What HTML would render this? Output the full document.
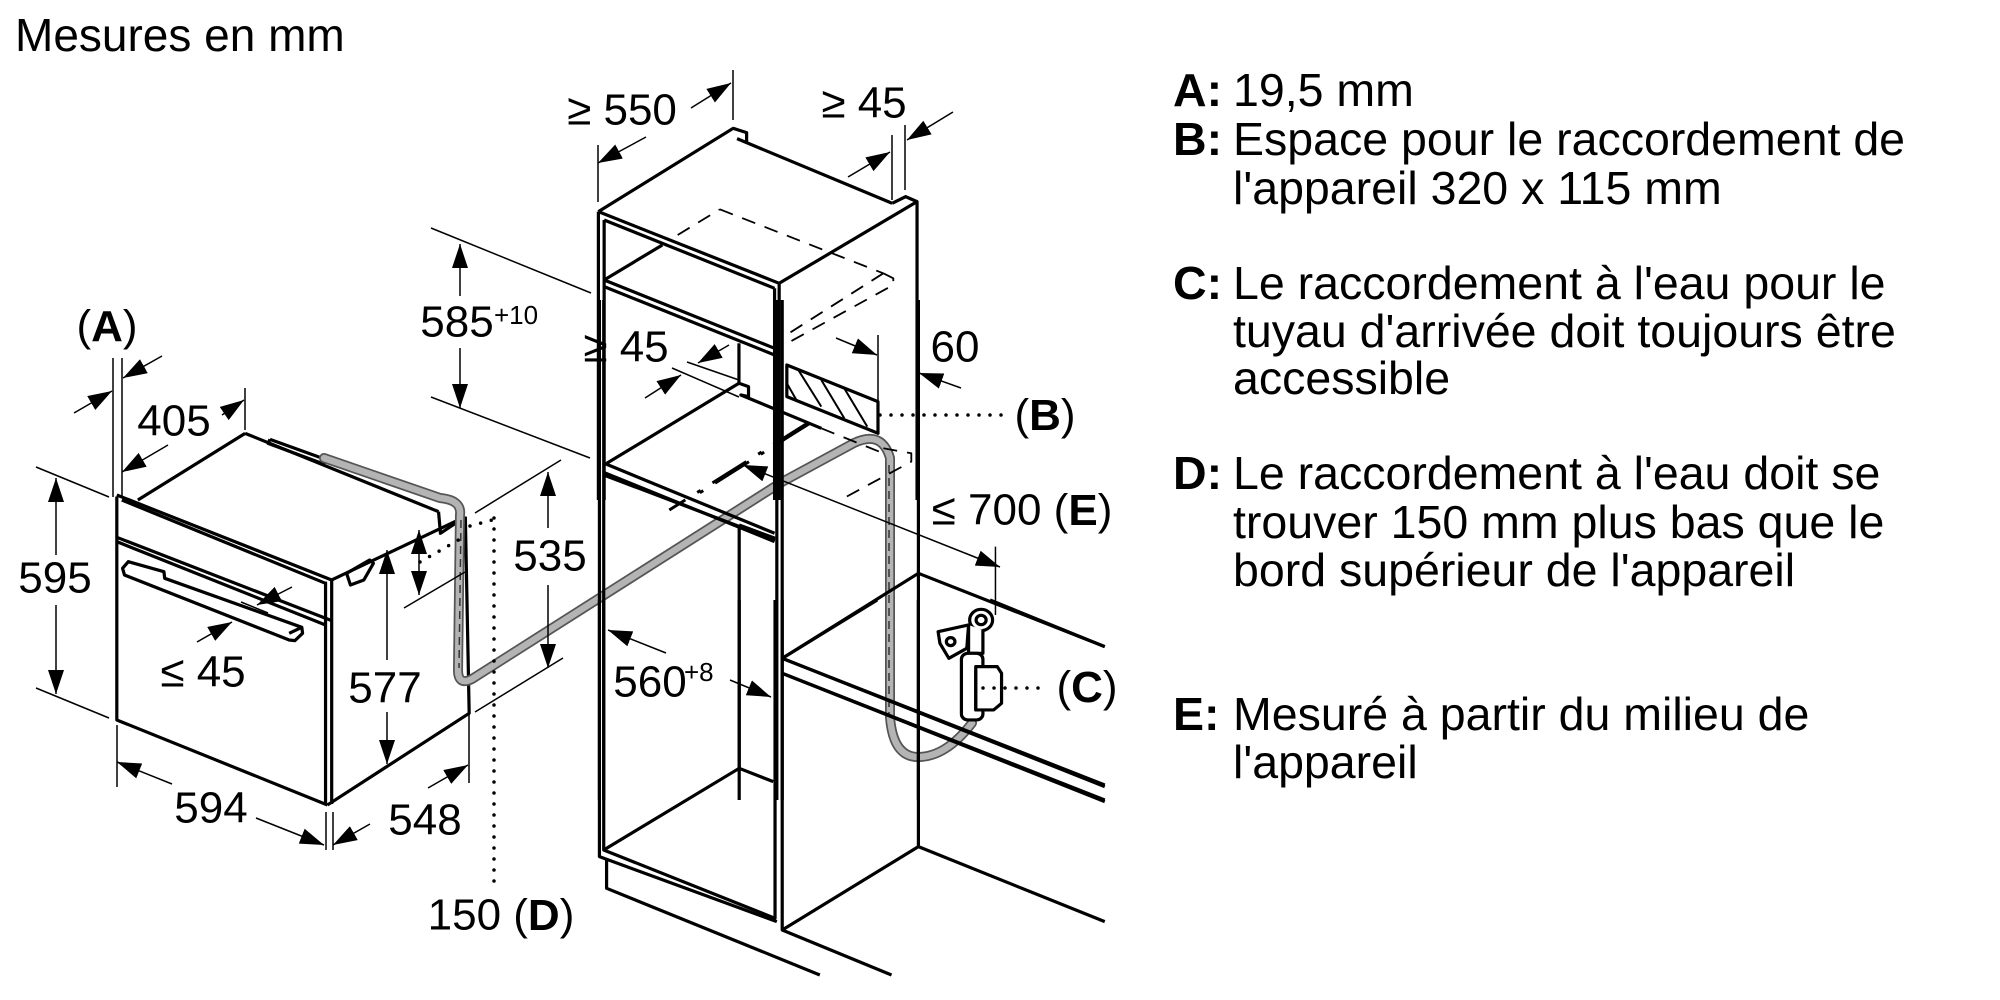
<!DOCTYPE html>
<html><head><meta charset="utf-8"><style>
html,body{margin:0;padding:0;background:#fff;}
svg{display:block;}
.z *{vector-effect:non-scaling-stroke;}
text{font-family:"Liberation Sans",Arial,sans-serif;fill:#000;}
</style></head><body>
<svg width="2000" height="1000" viewBox="0 0 2000 1000" xmlns="http://www.w3.org/2000/svg">
<defs>
<marker id="a" markerUnits="userSpaceOnUse" markerWidth="26" markerHeight="16" refX="24" refY="8" orient="auto"><path d="M0,0 L24,8 L0,16 Z" fill="#000"/></marker>
<marker id="s" markerUnits="userSpaceOnUse" markerWidth="26" markerHeight="16" refX="0" refY="8" orient="auto"><path d="M24,0 L0,8 L24,16 Z" fill="#000"/></marker>
</defs>
<rect width="2000" height="1000" fill="#fff"/>

<!-- OVEN (zoom3 coords) -->
<g class="z" transform="translate(0,400) scale(0.383,0.3333)" fill="none" stroke="#000" stroke-width="3.2" stroke-linejoin="round">
<polyline points="305,290 305,960 855,1215"/>
<line x1="850" y1="545" x2="850" y2="1212"/>
<line x1="866" y1="540" x2="866" y2="1212"/>
<line x1="305" y1="285" x2="866" y2="540"/>
<line x1="318" y1="300" x2="850" y2="550"/>
<line x1="305" y1="412" x2="866" y2="662"/>
<line x1="305" y1="425" x2="850" y2="675"/>
<line x1="360" y1="300" x2="640" y2="100"/>
<line x1="640" y1="100" x2="1145" y2="335"/>
<line x1="866" y1="540" x2="1215" y2="350"/>
<polyline points="1215,350 1225,940 855,1215"/>
<polyline points="1145,335 1150,400 1215,350"/>
<polyline points="705,118 850,178 845,192 700,130 705,118"/>
<path d="M320,505 L335,485 L428,515 L430,535 L788,682 L790,700 L770,722 L755,720 L325,525 Z" fill="#fff"/>
<line x1="755" y1="700" x2="788" y2="682"/>
<path d="M905,520 L965,480 L975,490 L950,540 L915,555 Z"/>
</g>
<!-- hose -->
<path d="M324,458 L440,498 Q462,500 460,515 L458,670 Q458,686 472,679 L782,482 L854,443 Q882,430 890,458 L890,717 Q893,757 918,757 Q946,757 972,723" fill="none" stroke="#555" stroke-width="10" stroke-linejoin="round" stroke-linecap="round"/>
<path d="M324,458 L440,498 Q462,500 460,515 L458,670 Q458,686 472,679 L782,482 L854,443 Q882,430 890,458 L890,717 Q893,757 918,757 Q946,757 972,723" fill="none" stroke="#b4b4b4" stroke-width="6.5" stroke-linejoin="round" stroke-linecap="round"/>
<path d="M461,520 L459,668 M889,465 L889,715" fill="none" stroke="#333" stroke-width="1.5" stroke-dasharray="8,5"/>

<!-- CABINET upper (zoom4 coords) -->
<g class="z" transform="translate(400,50) scale(0.383,0.3333)" fill="none" stroke="#000" stroke-width="3.2" stroke-linejoin="round">
<line x1="518" y1="485" x2="518" y2="1350"/>
<line x1="533" y1="510" x2="533" y2="1350"/>
<polyline points="518,485 870,235 905,248 905,280"/>
<line x1="880" y1="266" x2="1285" y2="460"/>
<polyline points="1285,460 1320,440 1350,455 1350,1350"/>
<line x1="518" y1="485" x2="990" y2="700"/>
<line x1="990" y1="700" x2="1350" y2="455"/>
<line x1="533" y1="510" x2="978" y2="715"/>
<line x1="978" y1="715" x2="978" y2="1350"/>
<line x1="990" y1="700" x2="990" y2="1350"/>
<line x1="533" y1="690" x2="978" y2="895"/>
<line x1="533" y1="710" x2="978" y2="915"/>
<line x1="533" y1="690" x2="685" y2="585"/>
<line x1="885" y1="880" x2="885" y2="1000"/>
<polyline points="540,1240 885,1000 910,1010 910,1040 890,1035 1100,1135"/>
<line x1="533" y1="1240" x2="978" y2="1450"/>
<line x1="533" y1="1268" x2="978" y2="1475"/>
<polygon points="1010,945 1248,1055 1248,1150 1010,1040" fill="#fff"/>
<path d="M1040,960 L1100,1070 M1100,990 L1160,1105 M1160,1015 L1220,1130 M1010,1000 L1035,1050" stroke-width="2"/>
<g stroke-width="1.8" stroke-dasharray="14,10">
<line x1="725" y1="555" x2="835" y2="478"/>
<line x1="835" y1="478" x2="1262" y2="670"/>
<polyline points="1262,670 1288,685 1288,705 995,890"/>
<line x1="1262" y1="670" x2="995" y2="865"/>
<line x1="1100" y1="1135" x2="1262" y2="1210"/>
<polyline points="1262,1195 1335,1210 1335,1235 1150,1350"/>
</g>
<path d="M1070,1120 L760,1345" stroke-width="3" stroke-dasharray="40,14,4,14"/>
</g>

<!-- zoom2 coords -->
<g class="z" transform="translate(560,300) scale(0.3584,0.3333)" fill="none" stroke="#000" stroke-width="3.2" stroke-linejoin="round">
<line x1="500" y1="675" x2="500" y2="1500"/>
<line x1="110" y1="0" x2="110" y2="1500"/>
<line x1="122" y1="0" x2="122" y2="1500"/>
<line x1="605" y1="0" x2="605" y2="1500"/>
<line x1="620" y1="0" x2="620" y2="1500"/>
<line x1="1000" y1="0" x2="1000" y2="1500"/>
<line x1="122" y1="525" x2="600" y2="720"/>
<line x1="500" y1="675" x2="600" y2="715"/>
<path d="M690,370 L305,630" stroke-width="3" stroke-dasharray="40,14,4,14"/>
<polyline points="620,1075 1000,820 1520,1040"/>
<line x1="620" y1="1075" x2="1520" y2="1460"/>
<line x1="620" y1="1120" x2="1520" y2="1500"/>
<line x1="1215" y1="740" x2="1215" y2="945" stroke-width="1.5"/>
<ellipse cx="1175" cy="960" rx="32" ry="32" fill="#fff"/>
<ellipse cx="1175" cy="960" rx="14" ry="14"/>
<path d="M1140,975 L1140,1060 L1180,1060 L1180,990" fill="#fff"/>
<path d="M1055,995 L1140,975 L1135,1045 L1085,1075 L1060,1030 Z" fill="#fff"/>
<ellipse cx="1090" cy="1025" rx="12" ry="12"/>
<rect x="1120" y="1060" width="60" height="200" rx="18" fill="#fff"/>
<path d="M1160,1100 L1220,1100 L1232,1120 L1232,1210 L1210,1230 L1160,1230 Z" fill="#fff"/>
<line x1="1160" y1="1110" x2="1160" y2="1230"/>
</g>

<!-- zoom5 coords (bottom) -->
<g class="z" transform="translate(560,600) scale(0.3584,0.3333)" fill="none" stroke="#000" stroke-width="3.2" stroke-linejoin="round">
<polyline points="110,0 110,770 605,965"/>
<polyline points="122,0 122,750 600,955 600,0"/>
<polyline points="122,750 500,505 595,545"/>
<line x1="500" y1="0" x2="500" y2="505"/>
<polyline points="130,780 130,865 725,1125"/>
<polyline points="620,0 620,990 925,1125"/>
<polyline points="620,990 1000,740 1520,965"/>
<line x1="1000" y1="0" x2="1000" y2="740"/>
<line x1="620" y1="175" x2="885" y2="0"/>
<line x1="620" y1="175" x2="1520" y2="555"/>
<line x1="620" y1="220" x2="1520" y2="605"/>
<line x1="1200" y1="0" x2="1520" y2="140"/>
</g>

<!-- dimension lines (real coords) -->
<g fill="none" stroke="#000" stroke-width="1.5">
<line x1="36" y1="467" x2="109" y2="497"/><line x1="36" y1="688" x2="109" y2="718"/>
<line x1="56" y1="555" x2="56" y2="478" marker-end="url(#a)"/>
<line x1="56" y1="605" x2="56" y2="694" marker-end="url(#a)"/>
<line x1="117" y1="725" x2="117" y2="787"/><line x1="326" y1="812" x2="326" y2="850"/>
<line x1="172" y1="784" x2="117" y2="762" marker-end="url(#a)"/>
<line x1="256" y1="818" x2="324" y2="845" marker-end="url(#a)"/>
<line x1="469" y1="713" x2="469" y2="783"/><line x1="333" y1="812" x2="333" y2="850"/>
<line x1="370" y1="824" x2="333" y2="845" marker-end="url(#a)"/>
<line x1="428" y1="788" x2="468" y2="765" marker-end="url(#a)"/>
<line x1="387" y1="660" x2="387" y2="550" marker-end="url(#a)"/>
<line x1="387" y1="712" x2="387" y2="764" marker-end="url(#a)"/>
<line x1="475" y1="513" x2="561" y2="460"/><line x1="475" y1="712" x2="563" y2="658"/>
<line x1="548" y1="528" x2="548" y2="472" marker-end="url(#a)"/>
<line x1="548" y1="585" x2="548" y2="668" marker-end="url(#a)"/>
<line x1="419" y1="530" x2="419" y2="595" marker-start="url(#s)" marker-end="url(#a)"/>
<line x1="404" y1="608" x2="465" y2="572"/>
<line x1="292" y1="587" x2="257" y2="605" marker-end="url(#a)"/>
<line x1="197" y1="642" x2="232" y2="622" marker-end="url(#a)"/>
<line x1="241" y1="602" x2="268" y2="613"/>
<line x1="245" y1="388" x2="245" y2="430"/>
<line x1="222" y1="415" x2="244" y2="400" marker-end="url(#a)"/>
<line x1="168" y1="445" x2="122" y2="472" marker-end="url(#a)"/>
<line x1="113" y1="358" x2="113" y2="497"/><line x1="122" y1="358" x2="122" y2="497"/>
<line x1="162" y1="356" x2="123" y2="378" marker-end="url(#a)"/>
<line x1="74" y1="413" x2="112" y2="391" marker-end="url(#a)"/>
<line x1="598" y1="145" x2="598" y2="202"/><line x1="733" y1="70" x2="733" y2="120"/>
<line x1="646" y1="137" x2="598" y2="163" marker-end="url(#a)"/>
<line x1="691" y1="108" x2="731" y2="83" marker-end="url(#a)"/>
<line x1="892" y1="135" x2="892" y2="200"/><line x1="905" y1="125" x2="905" y2="190"/>
<line x1="848" y1="177" x2="890" y2="152" marker-end="url(#a)"/>
<line x1="953" y1="112" x2="907" y2="140" marker-end="url(#a)"/>
<line x1="431" y1="228" x2="591" y2="293"/><line x1="431" y1="397" x2="590" y2="458"/>
<line x1="460" y1="296" x2="460" y2="244" marker-end="url(#a)"/>
<line x1="460" y1="348" x2="460" y2="408" marker-end="url(#a)"/>
<line x1="729" y1="345" x2="698" y2="363" marker-end="url(#a)"/>
<line x1="645" y1="398" x2="681" y2="375" marker-end="url(#a)"/>
<line x1="687" y1="362" x2="739" y2="380"/><line x1="672" y1="368" x2="739" y2="397"/>
<line x1="878" y1="335" x2="878" y2="433"/>
<line x1="961" y1="388" x2="919" y2="373" marker-end="url(#a)"/>
<line x1="836" y1="338" x2="877" y2="355" marker-end="url(#a)"/>
<line x1="743" y1="465" x2="1000" y2="567" marker-start="url(#s)" marker-end="url(#a)"/>
<line x1="666" y1="653" x2="608" y2="630" marker-end="url(#a)"/>
<line x1="730" y1="680" x2="771" y2="697" marker-end="url(#a)"/>
</g>
<g fill="none" stroke="#000" stroke-width="3.5" stroke-linecap="round" stroke-dasharray="0,11">
<line x1="494" y1="518" x2="494" y2="884"/>
<line x1="470" y1="526" x2="492" y2="520"/>
<line x1="420" y1="562" x2="462" y2="538"/>
<line x1="880" y1="415" x2="1006" y2="415"/>
<line x1="983" y1="688" x2="1044" y2="688"/>
</g>

<g font-size="44" text-anchor="middle" dominant-baseline="central">
<text x="55" y="578">595</text>
<text x="211" y="808">594</text>
<text x="425" y="820">548</text>
<text x="385" y="688">577</text>
<text x="550" y="556">535</text>
<text x="203" y="672">≤ 45</text>
<text x="174" y="421">405</text>
<text x="107" y="326">(<tspan font-weight="bold">A</tspan>)</text>
<text x="622" y="110">≥ 550</text>
<text x="864" y="103">≥ 45</text>
<text x="626" y="347">≥ 45</text>
<text x="955" y="347">60</text>
<text x="1045" y="415">(<tspan font-weight="bold">B</tspan>)</text>
<text x="1022" y="510">≤ 700 (<tspan font-weight="bold">E</tspan>)</text>
<text x="1087" y="687">(<tspan font-weight="bold">C</tspan>)</text>
<text x="501" y="915">150 (<tspan font-weight="bold">D</tspan>)</text>
</g>
<text x="457" y="322" font-size="44" text-anchor="middle" dominant-baseline="central">585</text>
<text x="494" y="315" font-size="26" dominant-baseline="central">+10</text>
<text x="650" y="682" font-size="44" text-anchor="middle" dominant-baseline="central">560</text>
<text x="684" y="672" font-size="26" dominant-baseline="central">+8</text>

<text x="15" y="51" font-size="46">Mesures en mm</text>

<g font-size="46.5">
<text x="1173" y="106"><tspan font-weight="bold">A:</tspan></text><text x="1233" y="106">19,5 mm</text>
<text x="1173" y="155"><tspan font-weight="bold">B:</tspan></text><text x="1233" y="155">Espace pour le raccordement de</text>
<text x="1233" y="204">l'appareil 320 x 115 mm</text>
<text x="1173" y="299"><tspan font-weight="bold">C:</tspan></text><text x="1233" y="299">Le raccordement à l'eau pour le</text>
<text x="1233" y="347">tuyau d'arrivée doit toujours être</text>
<text x="1233" y="394">accessible</text>
<text x="1173" y="489"><tspan font-weight="bold">D:</tspan></text><text x="1233" y="489">Le raccordement à l'eau doit se</text>
<text x="1233" y="538">trouver 150 mm plus bas que le</text>
<text x="1233" y="586">bord supérieur de l'appareil</text>
<text x="1173" y="730"><tspan font-weight="bold">E:</tspan></text><text x="1233" y="730">Mesuré à partir du milieu de</text>
<text x="1233" y="778">l'appareil</text>
</g>
</svg>
</body></html>
